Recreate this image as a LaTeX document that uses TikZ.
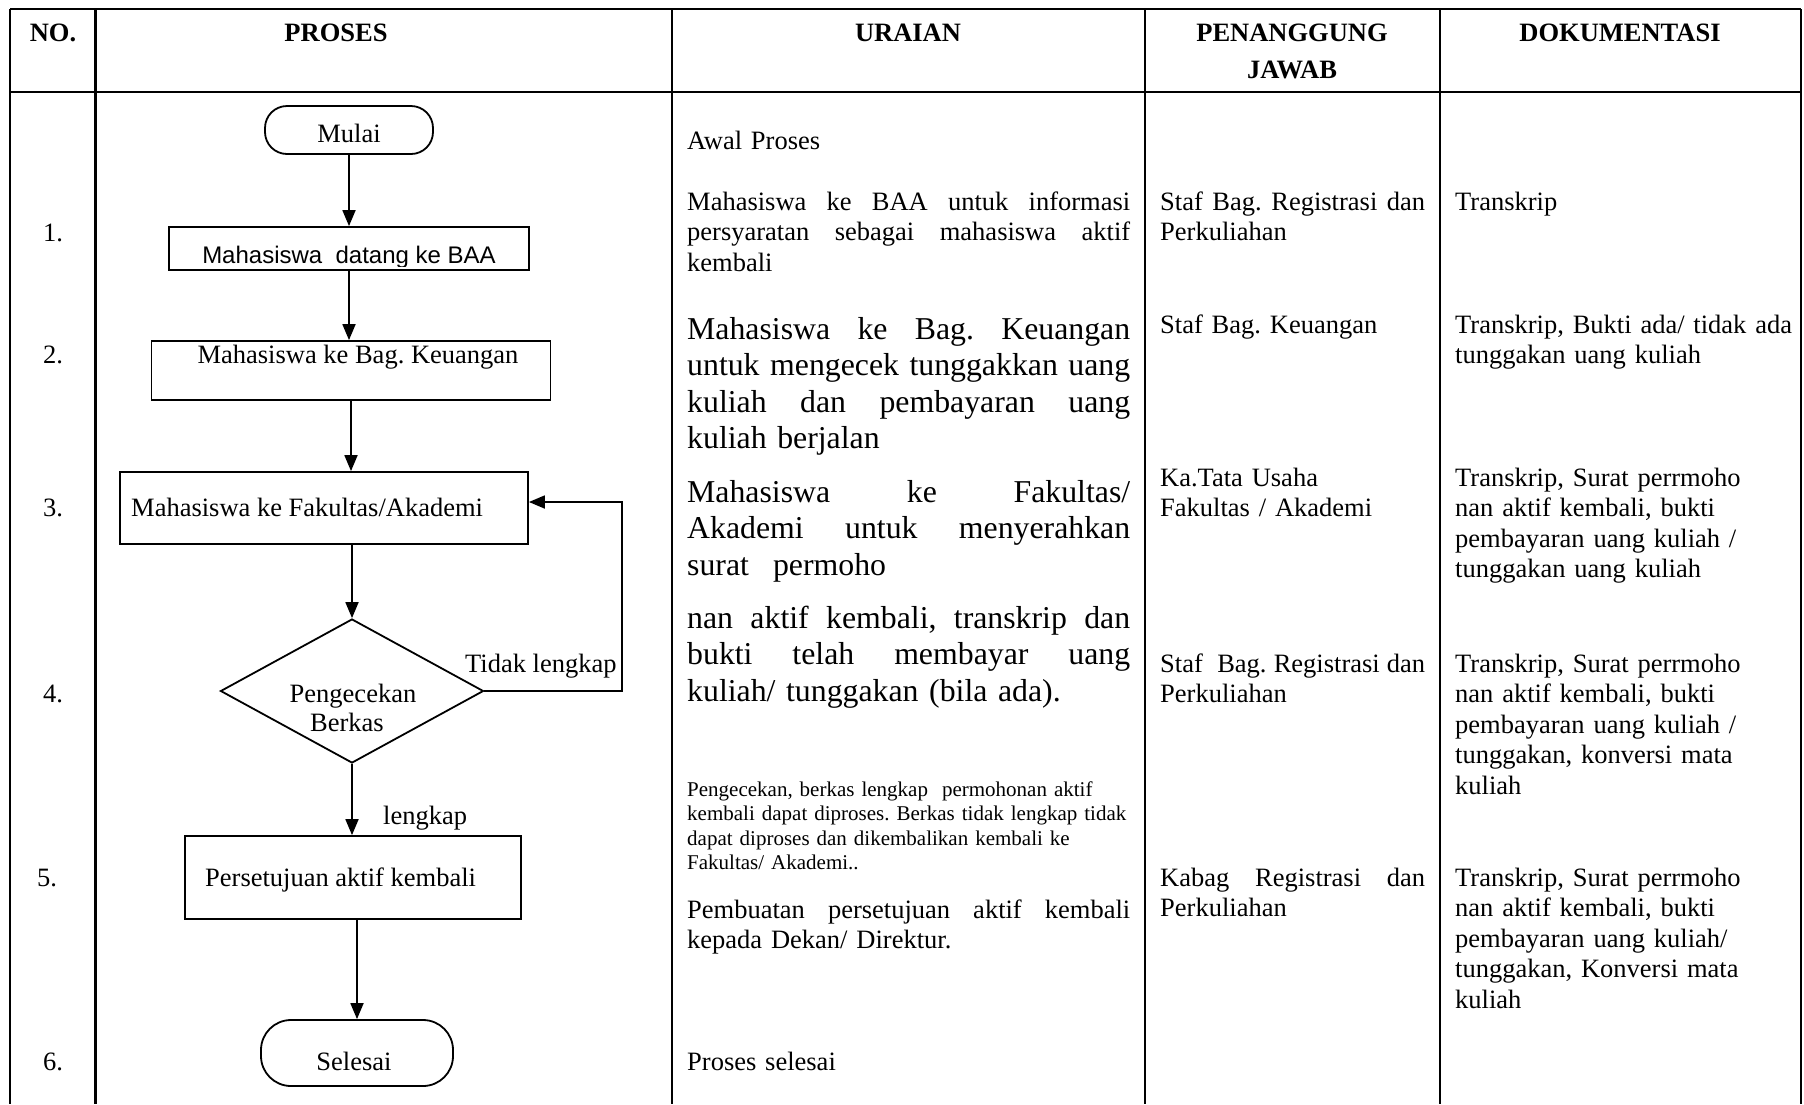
\documentclass[tikz,border=0pt]{standalone}
\usepackage{fontspec}
\setmainfont{Liberation Serif}
\newfontfamily\arialfont{Liberation Sans}
\usetikzlibrary{shapes.geometric,arrows.meta}
\setlength\parindent{0pt}
\frenchspacing
\newcommand\fNorm{\fontsize{26.5}{30.5}\selectfont}
\newcommand\fBig{\fontsize{31.8}{36.5}\selectfont}
\newcommand\fSmall{\fontsize{21}{24.5}\selectfont}
\newcommand\jl[2]{\leavevmode\hbox to #1{\spaceskip=.25em plus 20em\xspaceskip=.25em plus 20em\relax #2}}
\begin{document}
\begin{tikzpicture}[x=1pt,y=-1pt,
  tline/.style={line width=2.4pt},
  fbox/.style={draw,line width=1.8pt,inner sep=0pt},
  arr/.style={line width=1.8pt,-{Triangle[length=16pt,width=13pt]}},
  txt/.style={inner sep=0pt,font=\fNorm,anchor=base},
  hd/.style={inner sep=0pt,font=\fNorm\bfseries,anchor=base},
  para/.style={inner sep=0pt,anchor=base west,font=\fNorm},
]
\useasboundingbox[fill=white] (0,0) rectangle (1804,1104);
% table grid
\draw[tline] (10,9) -- (1801,9);
\draw[tline] (10,92) -- (1801,92);
\foreach \cx in {10,95.5,672,1145,1440,1801}{\draw[tline] (\cx,9) -- (\cx,1104);}
% headers
\node[hd] (hno) at (53,41) {NO.};
\node[hd] (hpr) at (336,41) {PROSES};
\node[hd] (hur) at (908,41) {URAIAN};
\node[hd] (hpj) at (1292,41) {PENANGGUNG};
\node[hd] (hpj2) at (1292,78) {JAWAB};
\node[hd] (hdo) at (1620,41) {DOKUMENTASI};
% numbers
\node[txt] (n1) at (53,241) {1.};
\node[txt] (n2) at (53,363) {2.};
\node[txt] (n3) at (53,516) {3.};
\node[txt] (n4) at (53,702) {4.};
\node[txt] (n5) at (47,886) {5.};
\node[txt] (n6) at (53,1070) {6.};
% flowchart shapes
\node[fbox,rounded corners=22pt,minimum width=168pt,minimum height=48pt] (mulai) at (349,130) {};
\node[fbox,minimum width=360pt,minimum height=43pt] (box1) at (349,248.5) {};
\node[fbox,minimum width=399pt,minimum height=59pt] (box2) at (351,370.5) {};
\node[fbox,minimum width=408pt,minimum height=72pt] (box3) at (324,508) {};
\node[fbox,diamond,minimum width=263pt,minimum height=144pt] (dia) at (352,691) {};
\node[fbox,minimum width=336pt,minimum height=83pt] (box5) at (353,877.5) {};
\node[fbox,rounded corners=30pt,minimum width=192pt,minimum height=66pt] (selesai) at (357,1053) {};
% flowchart texts
\node[txt] (tmulai) at (349,142) {Mulai};
\begin{scope}
\clip (169,227) rectangle (529,266);
\node[inner sep=0pt,anchor=base,font=\arialfont\fontsize{24}{27}\selectfont] (t1) at (349,263) {Mahasiswa\ \ datang ke BAA};
\end{scope}
\node[txt] (t2) at (358,363) {Mahasiswa ke Bag. Keuangan};
\node[txt,anchor=base west] (t3) at (131,516) {Mahasiswa ke Fakultas/Akademi};
\node[txt] (t4a) at (353,702) {Pengecekan};
\node[txt] (t4b) at (347,731) {Berkas};
\node[txt,anchor=base west] (ttidak) at (465,672) {Tidak lengkap};
\node[txt,anchor=base west] (tleng) at (383,824) {lengkap};
\node[txt,anchor=base west] (t5) at (205,886) {Persetujuan aktif kembali};
\node[txt] (t6) at (354,1070) {Selesai};
% connectors
\draw[arr] (mulai) -- (box1);
\draw[arr] (box1.south) -- (box1.south |- box2.north);
\draw[arr] (box2.south) -- (box2.south |- box3.north);
\draw[arr] (dia.north |- box3.south) -- (dia.north);
\draw[arr] (dia.south) -- (dia.south |- box5.north);
\draw[arr] (box5.south -| selesai.north) -- (selesai.north);
\coordinate (lp) at (622,502);
\draw[arr] (dia.east) -| (lp) -- (lp -| box3.east);
% uraian
\node[para,text width=443pt] (u0) at (687,149) {Awal Proses};
\node[para,text width=443pt] (u1) at (687,210) {\jl{443pt}{Mahasiswa ke BAA untuk informasi}\\\jl{443pt}{persyaratan sebagai mahasiswa aktif}\\kembali};
\node[para,text width=443pt,font=\fBig] (u2) at (687,339) {\jl{443pt}{Mahasiswa ke Bag. Keuangan}\\\jl{443pt}{untuk mengecek tunggakkan uang}\\\jl{443pt}{kuliah dan pembayaran uang}\\kuliah berjalan};
\node[para,text width=443pt,font=\fBig] (u3) at (687,502) {\jl{443pt}{Mahasiswa ke Fakultas/}\\\jl{443pt}{Akademi untuk menyerahkan}\\surat\hspace{24pt}permoho};
\node[para,text width=443pt,font=\fBig] (u4) at (687,628) {\jl{443pt}{nan aktif kembali, transkrip dan}\\\jl{443pt}{bukti telah membayar uang}\\kuliah/ tunggakan (bila ada).};
\node[para,text width=480pt,font=\fSmall] (u5) at (687,796) {Pengecekan, berkas lengkap\ \ permohonan aktif\\kembali dapat diproses. Berkas tidak lengkap tidak\\dapat diproses dan dikembalikan kembali ke\\Fakultas/ Akademi..};
\node[para,text width=443pt] (u6) at (687,918) {\jl{443pt}{Pembuatan persetujuan aktif kembali}\\kepada Dekan/ Direktur.};
\node[para,text width=443pt] (u7) at (687,1070) {Proses selesai};
% penanggung jawab
\node[para,text width=265pt] (p1) at (1160,210) {\jl{265pt}{Staf Bag. Registrasi dan}\\Perkuliahan};
\node[para,text width=265pt] (p2) at (1160,333) {Staf Bag. Keuangan};
\node[para,text width=265pt] (p3) at (1160,486) {Ka.Tata Usaha\\Fakultas / Akademi};
\node[para,text width=265pt] (p4) at (1160,672) {\jl{265pt}{Staf\ \ Bag. Registrasi dan}\\Perkuliahan};
\node[para,text width=265pt] (p5) at (1160,886) {\jl{265pt}{Kabag Registrasi dan}\\Perkuliahan};
% dokumentasi
\node[para,text width=340pt] (d1) at (1455,210) {Transkrip};
\node[para,text width=340pt] (d2) at (1455,333) {Transkrip, Bukti ada/ tidak ada\\tunggakan uang kuliah};
\node[para,text width=340pt] (d3) at (1455,486) {Transkrip, Surat perrmoho\\nan aktif kembali, bukti\\pembayaran uang kuliah /\\tunggakan uang kuliah};
\node[para,text width=340pt] (d4) at (1455,672) {Transkrip, Surat perrmoho\\nan aktif kembali, bukti\\pembayaran uang kuliah /\\tunggakan, konversi mata\\kuliah};
\node[para,text width=340pt] (d5) at (1455,886) {Transkrip, Surat perrmoho\\nan aktif kembali, bukti\\pembayaran uang kuliah/\\tunggakan, Konversi mata\\kuliah};
\end{tikzpicture}
\end{document}
